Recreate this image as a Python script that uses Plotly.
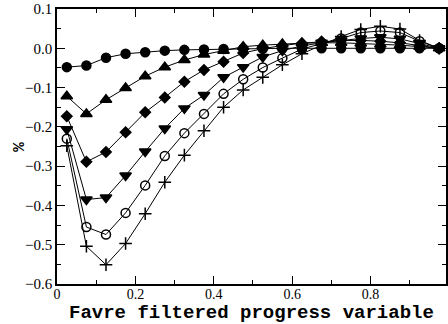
import plotly.graph_objects as go

# progress-variable bin centres
c_bins = [0.025, 0.075, 0.125, 0.175, 0.225, 0.275, 0.325, 0.375, 0.425, 0.475,
          0.525, 0.575, 0.625, 0.675, 0.725, 0.775, 0.825, 0.875, 0.925, 0.975]

# relative error (%) for each case
err_circle = [-0.048, -0.044, -0.024, -0.014, -0.010, -0.006, -0.004, -0.003, -0.002, -0.001,
              -0.001, 0.0, 0.0, 0.0, 0.0, 0.0, 0.0, 0.0, 0.0, 0.0]
err_tri_up = [-0.122, -0.167, -0.131, -0.101, -0.071, -0.048, -0.030, -0.016, -0.006, 0.004,
              0.008, 0.011, 0.013, 0.014, 0.014, 0.012, 0.010, 0.008, 0.004, 0.0]
err_diamond = [-0.173, -0.289, -0.264, -0.214, -0.163, -0.125, -0.085, -0.055, -0.034, -0.012,
               -0.001, 0.007, 0.013, 0.017, 0.020, 0.020, 0.018, 0.014, 0.007, 0.0]
err_tri_down = [-0.206, -0.385, -0.380, -0.324, -0.263, -0.204, -0.153, -0.119, -0.074, -0.048,
                -0.022, -0.006, 0.006, 0.014, 0.020, 0.025, 0.028, 0.024, 0.012, 0.0]
err_open = [-0.230, -0.455, -0.474, -0.419, -0.349, -0.274, -0.216, -0.167, -0.116, -0.079,
            -0.049, -0.025, -0.002, 0.012, 0.025, 0.040, 0.044, 0.040, 0.018, 0.0]
err_plus = [-0.248, -0.504, -0.551, -0.497, -0.421, -0.341, -0.272, -0.210, -0.150, -0.106,
            -0.074, -0.042, -0.014, 0.008, 0.030, 0.048, 0.056, 0.049, 0.020, 0.0]

series = [
    (err_circle, "circle", 9),
    (err_tri_up, "triangle-up", 10),
    (err_diamond, "diamond", 8),
    (err_tri_down, "triangle-down", 10),
    (err_open, "circle-open", 9),
    (err_plus, "cross-thin-open", 9),
]

fig = go.Figure()
for vals, sym, size in series:
    fig.add_trace(go.Scatter(
        x=c_bins, y=vals, mode="lines+markers",
        line=dict(color="black", width=1),
        marker=dict(symbol=sym, size=size, color="black",
                    line=dict(color="black", width=1.5)),
        showlegend=False, cliponaxis=False,
    ))

serif = "Liberation Serif, Times New Roman, serif"
mono = "Liberation Mono, Courier New, monospace"

fig.update_layout(
    width=448, height=324,
    margin=dict(l=57, r=0, t=9, b=40),
    paper_bgcolor="white", plot_bgcolor="white",
    xaxis=dict(
        range=[0, 0.9925], tickvals=[0, 0.2, 0.4, 0.6, 0.8],
        ticktext=["0", "0.2", "0.4", "0.6", "0.8"],
        ticks="inside", ticklen=8, tickwidth=1, tickcolor="black",
        minor=dict(dtick=0.1, ticks="inside", ticklen=4, tickcolor="black", showgrid=False),
        showline=True, linecolor="black", linewidth=1.5, mirror="ticks",
        showgrid=False, zeroline=False, ticklabelstandoff=-4,
        tickfont=dict(family=serif, size=14, color="black"),
    ),
    yaxis=dict(
        range=[-0.6, 0.1], dtick=0.1, tickformat=".1f",
        ticks="inside", ticklen=8, tickwidth=1, tickcolor="black",
        minor=dict(dtick=0.05, ticks="inside", ticklen=4, tickcolor="black", showgrid=False),
        showline=True, linecolor="black", linewidth=1.5, mirror="ticks",
        showgrid=False, zeroline=False,
        tickfont=dict(family=serif, size=15, color="black"),
    ),
)

# x-axis label along the bottom edge
fig.add_annotation(text="<b>Favre filtered progress variable</b>", xref="paper", yref="paper",
                   x=0.5, y=-40 / 275, xanchor="center", yanchor="bottom", yshift=-2,
                   showarrow=False, font=dict(family=mono, size=19, color="black"))

# y-axis label, rotated, just left of the tick labels
fig.add_annotation(text="<b>%</b>", xref="paper", yref="paper",
                   x=(19 - 57) / 391, y=0.5, xanchor="center", yanchor="middle",
                   textangle=-90, showarrow=False,
                   font=dict(family=mono, size=16, color="black"))

fig.write_html("out.html")
